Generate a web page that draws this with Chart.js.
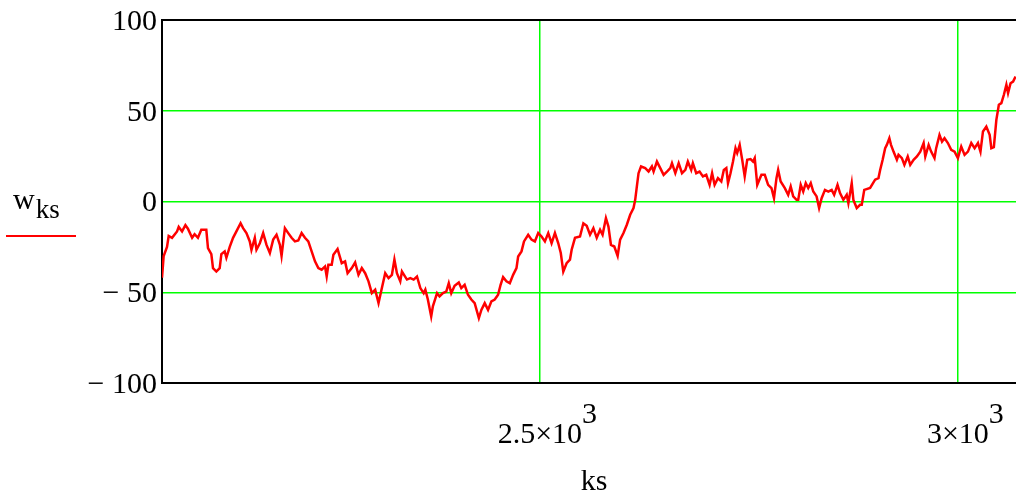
<!DOCTYPE html>
<html>
<head>
<meta charset="utf-8">
<script src="https://cdn.jsdelivr.net/npm/chart.js@4.4.1/dist/chart.umd.min.js"></script>
<style>
  html, body { margin: 0; padding: 0; background: #fff; }
  canvas { display: block; }
</style>
</head>
<body>
<canvas id="plot" width="1016" height="496"></canvas>
<script>
/* data: index ks, value w_ks */
const ks = [
  2048,2050,2054,2056,2060,2066,2068,2072,2076,2079,2084,2087,2091,2095,2101,2103,2107,2109,2113,2117,2119,2123,2125,2129,2133,2137,2142,2145,2149,2153,2155,2159,2161,2165,2169,2173,2177,2181,2185,2189,2191,2195,2199,2203,2207,
  2211,2215,2219,2223,2227,2231,2235,2239,2243,2245,2247,2251,2253,2258,2263,2267,2270,2275,2279,2283,2287,2291,2295,2299,2303,2307,2311,2315,2319,2323,2326,2329,2333,2335,2341,2345,2349,2353,2357,2361,2363,2366,2370,2372,2377,2380,2384,
  2388,2391,2394,2398,2403,2406,2410,2414,2418,2422,2427,2430,2434,2438,2442,2446,2450,2453,2456,2460,2464,2468,2472,2474,2478,2481,2486,2490,2494,2498,2502,2506,2510,2514,2518,2522,2525,2528,2532,2536,2538,2542,
  2548,2552,2556,2560,2564,2568,2572,2575,2579,2582,2585,2589,2593,2596,2600,2604,2608,2612,2614,2616,2618,2621,2626,2630,2634,2636,2640,2644,2648,2652,2656,2658,2662,2666,2670,2674,2677,2681,2683,2687,2691,2695,2699,2703,2706,2709,2713,2717,2720,
  2723,2725,2728,2731,2734,2736,2739,2742,2745,2748,2752,2755,2757,2760,2765,2769,2773,2777,2780,2783,2785,2788,2793,2797,2800,2803,2807,2809,2812,2815,2818,2821,2824,2827,2831,2834,2837,2841,2845,2849,2852,2856,2859,2863,2867,2869,2873,2875,2879,2883,2885,2888,
  2895,2901,2905,2907,2910,2913,2915,2918,2920,2923,2927,2929,2933,2936,2940,2943,2947,2951,2955,2959,2961,2965,2968,2972,2974,2978,2981,2984,2988,2992,2996,3000,3004,3008,3012,3016,3020,3024,3027,3030,3034,3038,3040,3043,3046,3049,3052,3055,3058,3060,3063,3066,3069
];
const w = [
  -42,-30,-25,-19,-20,-16.5,-14,-16.5,-13,-15,-20,-18,-20,-15.6,-15.6,-25.7,-29,-36.7,-38.6,-36.7,-29,-27.5,-31,-25,-20,-16.5,-12,-14.7,-17.4,-22,-26.6,-20,-26.6,-23,-17.4,-23.9,-28.4,-21,-18.3,-23.9,-30,-14.7,-17.4,-20,-22,
  -21.5,-17.4,-20,-22,-27.5,-33,-36.7,-37.6,-35.8,-41.3,-34.9,-34.9,-29.4,-26.2,-34,-33,-39.5,-36.7,-33.6,-40.4,-36.7,-39.5,-44,-50.5,-48.6,-56,-47.7,-39.5,-42.2,-40.4,-32,-39.5,-44,-38.6,-43,-42.2,-43,-41.3,-47.7,-50.5,-48.6,-54,-63.4,-57.8,-50.5,-52.3,-50.5,
  -49.6,-45,-50.5,-46.4,-44.6,-47.7,-45.9,-51.4,-54,-56,-64.2,-59.7,-56,-59.7,-55,-54,-51.4,-45.9,-41.7,-44,-45,-40.4,-36.7,-30.3,-27.5,-22,-18.3,-21,-22,-17.4,-19.3,-22,-17.4,-23,-17.4,-23,-28.4,-38.6,-34,-32,-26.6,-20,
  -19.3,-12,-13.4,-18.3,-14.7,-20,-15.6,-18.3,-9.2,-13.8,-23.9,-24.8,-30,-21,-17.4,-12.8,-7.3,-3.6,0.9,8.3,15.6,19.3,18.4,16.5,19.3,16.5,22,18.4,14.7,16.5,18.4,21.1,15.6,21.1,15.6,17.4,22,17.4,21.1,15.6,16.5,13.8,14.7,9.2,15.6,9.2,12.9,11,17.4,
  18.4,10.1,15.6,22,29.4,26.7,31.2,23,13.8,23,23.4,22,23.9,9.2,14.7,14.7,9.2,7.4,1.8,12.9,17.4,11,7.4,3.7,8.3,2.8,0.9,0.9,9.2,5.5,10.1,7.4,10.1,5.5,2.8,-3.6,1.8,6.4,5.5,6.4,3.7,9.2,4.6,0.9,3.7,-0.9,10.1,0.9,-3.6,-1.8,-1.8,6.4,
  7.5,12,12.9,17.4,23,29.4,31.2,34.9,31.2,27.5,23,25.7,23.9,20.2,24.8,20.2,23,24.8,27.5,32.2,24.8,31.2,27.5,23.9,29.4,36.7,33,34.9,32.2,28.5,27.5,23.9,30.3,25.7,27.5,32.2,29.4,32.2,27.5,38.6,41.3,36.7,29.4,30,45,53.3,54.2,58.8,64.3,59.7,65.2,66.1,68.9
];

const yTicks = [-100, -50, 0, 50, 100];
const xTicks = [2500, 3000];
const xTickBase = ["2.5×10", "3×10"];
const xTickExp = ["3", "3"];

const FONT = '"Liberation Serif", "Times New Roman", serif';
const GREEN = 'rgb(0,255,0)';

/* mathcad style labels: top frame line, x tick labels with exponent, axis name, trace legend */
const mathcadText = {
  id: 'mathcadText',
  afterDraw(chart) {
    const { ctx, chartArea, scales } = chart;
    ctx.save();
    ctx.strokeStyle = '#000';
    ctx.lineWidth = 2;
    ctx.beginPath();
    ctx.moveTo(chartArea.left - 1, chartArea.top);
    ctx.lineTo(chartArea.right, chartArea.top);
    ctx.stroke();

    ctx.fillStyle = '#000';
    ctx.textBaseline = 'alphabetic';
    ctx.textAlign = 'left';
    ctx.font = '30px ' + FONT;
    xTicks.forEach((v, i) => {
      const px = scales.x.getPixelForValue(v);
      const bw = ctx.measureText(xTickBase[i]).width;
      ctx.fillText(xTickBase[i], px - bw / 2, 443);
      ctx.fillText(xTickExp[i], px + bw / 2, 423);
    });

    ctx.textAlign = 'center';
    ctx.fillText('ks', 594, 490);

    // trace legend on the left
    ctx.textAlign = 'left';
    ctx.font = '30px ' + FONT;
    ctx.fillText('w', 13, 209);
    const ww = ctx.measureText('w').width;
    ctx.font = '27px ' + FONT;
    ctx.fillText('ks', 13 + ww + 1, 218);
    ctx.strokeStyle = '#ff0000';
    ctx.lineWidth = 2;
    ctx.beginPath();
    ctx.moveTo(6, 236);
    ctx.lineTo(76, 236);
    ctx.stroke();
    ctx.restore();
  }
};

new Chart(document.getElementById('plot'), {
  type: 'line',
  data: {
    datasets: [{
      data: ks.map((k, i) => ({ x: k, y: w[i] })),
      borderColor: '#ff0000',
      borderWidth: 2.5,
      pointRadius: 0,
      tension: 0,
      fill: false
    }]
  },
  options: {
    responsive: false,
    animation: false,
    layout: { padding: { top: 20, left: 0, right: 0, bottom: 0 } },
    plugins: { legend: { display: false }, tooltip: { enabled: false } },
    scales: {
      x: {
        type: 'linear',
        min: 2048,
        max: 3069.5,
        afterBuildTicks: s => { s.ticks = xTicks.map(v => ({ value: v })); },
        afterFit: s => { s.height = 113; },
        ticks: { display: false },
        grid: { color: GREEN, lineWidth: 1.5, drawTicks: false },
        border: { color: '#000', width: 2 }
      },
      y: {
        min: -100,
        max: 100,
        afterBuildTicks: s => { s.ticks = yTicks.map(v => ({ value: v })); },
        afterFit: s => { s.width = 162; },
        ticks: {
          color: '#000',
          padding: 5,
          labelOffset: 2,
          font: { family: FONT, size: 30, lineHeight: 1 },
          callback: v => v < 0 ? '\u2212 ' + Math.abs(v) : String(v)
        },
        grid: {
          color: c => (c.tick && Math.abs(c.tick.value) === 100) ? 'rgba(0,0,0,0)' : GREEN,
          lineWidth: 1.5,
          drawTicks: false
        },
        border: { color: '#000', width: 2 }
      }
    }
  },
  plugins: [mathcadText]
});
</script>
</body>
</html>
